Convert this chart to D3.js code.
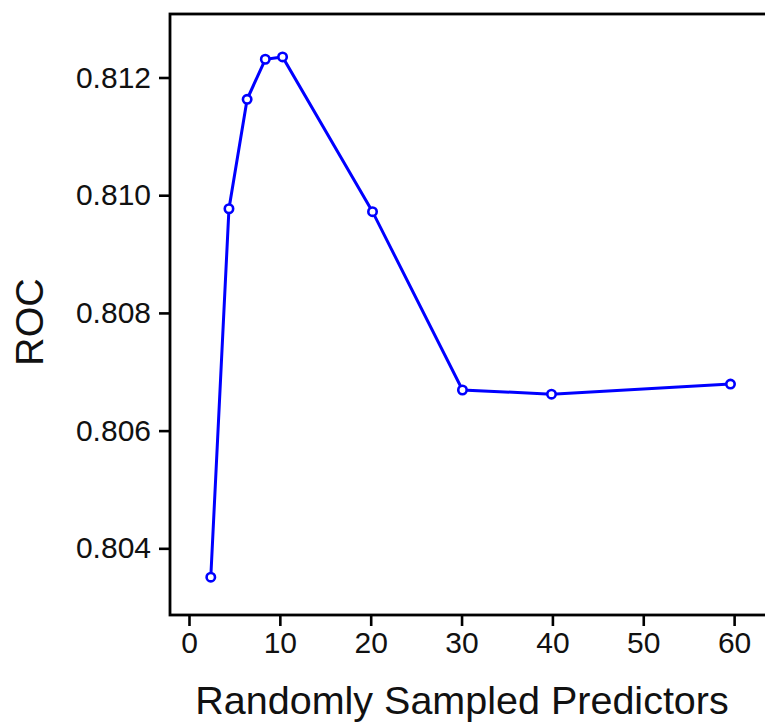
<!DOCTYPE html>
<html>
<head>
<meta charset="utf-8">
<script src="https://cdn.jsdelivr.net/npm/d3@7"></script>
<style>
  body { margin: 0; background: #fff; }
  svg { display: block; font-family: "Liberation Sans", Arial, sans-serif; }
</style>
</head>
<body>
<div id="chart"></div>
<script>
'use strict';

// number of randomly sampled predictors (mtry) and the resampled ROC
var predictors = [2.4, 4.4, 6.4, 8.4, 10.3, 20.2, 30.1, 39.9, 59.6];
var rocValues = [0.80351, 0.80977, 0.81163, 0.81231, 0.81235, 0.80972, 0.80669, 0.80662, 0.80679];
var xTicks = [0, 10, 20, 30, 40, 50, 60];
var yTicks = [0.804, 0.806, 0.808, 0.810, 0.812];

var width = 765,
    height = 723,
    margin = { top: 14, right: -15, bottom: 108, left: 170 };

var svg = d3.select('#chart').append('svg')
    .attr('width', width)
    .attr('height', height);

var plotW = width - margin.left - margin.right,
    plotH = height - margin.top - margin.bottom;

var x = d3.scaleLinear()
    .domain([-2.09, 63.4 + 15 / 9.088])
    .range([0, plotW]);

var y = d3.scaleLinear()
    .domain([0.802867, 0.813079])
    .range([plotH, 0]);

var g = svg.append('g')
    .attr('transform', 'translate(' + margin.left + ',' + margin.top + ')');

// frame (right side runs off the page)
g.append('rect')
    .attr('x', 0)
    .attr('y', 0)
    .attr('width', plotW)
    .attr('height', plotH)
    .attr('fill', 'none')
    .attr('stroke', '#000')
    .attr('stroke-width', 2.8);

var xAxis = g.append('g')
    .attr('transform', 'translate(0,' + plotH + ')')
    .call(d3.axisBottom(x).tickValues(xTicks).tickSize(11).tickPadding(6).tickFormat(d3.format('d')));

var yAxis = g.append('g')
    .call(d3.axisLeft(y).tickValues(yTicks).tickSize(11).tickPadding(8).tickFormat(d3.format('.3f')));

[xAxis, yAxis].forEach(function (ax) {
    ax.select('.domain').remove();
    ax.selectAll('.tick line').attr('stroke', '#000').attr('stroke-width', 2.6);
    ax.selectAll('.tick text')
        .attr('fill', '#111')
        .style('font-size', '30px')
        .style('font-family', '"Liberation Sans", Arial, sans-serif');
});

var line = d3.line()
    .x(function (d) { return x(d[0]); })
    .y(function (d) { return y(d[1]); });

var pts = d3.zip(predictors, rocValues);

g.append('path')
    .datum(pts)
    .attr('d', line)
    .attr('fill', 'none')
    .attr('stroke', '#0000ff')
    .attr('stroke-width', 3);

g.selectAll('circle.pt')
    .data(pts)
    .enter().append('circle')
    .attr('class', 'pt')
    .attr('cx', function (d) { return x(d[0]); })
    .attr('cy', function (d) { return y(d[1]); })
    .attr('r', 4.2)
    .attr('fill', '#fff')
    .attr('stroke', '#0000ff')
    .attr('stroke-width', 2.6);

// axis titles
svg.append('text')
    .attr('x', 462)
    .attr('y', 714)
    .attr('text-anchor', 'middle')
    .attr('fill', '#111')
    .style('font-size', '39.5px')
    .text('Randomly Sampled Predictors');

svg.append('text')
    .attr('transform', 'translate(43,322) rotate(-90)')
    .attr('text-anchor', 'middle')
    .attr('fill', '#111')
    .style('font-size', '39.5px')
    .text('ROC');
</script>
</body>
</html>
